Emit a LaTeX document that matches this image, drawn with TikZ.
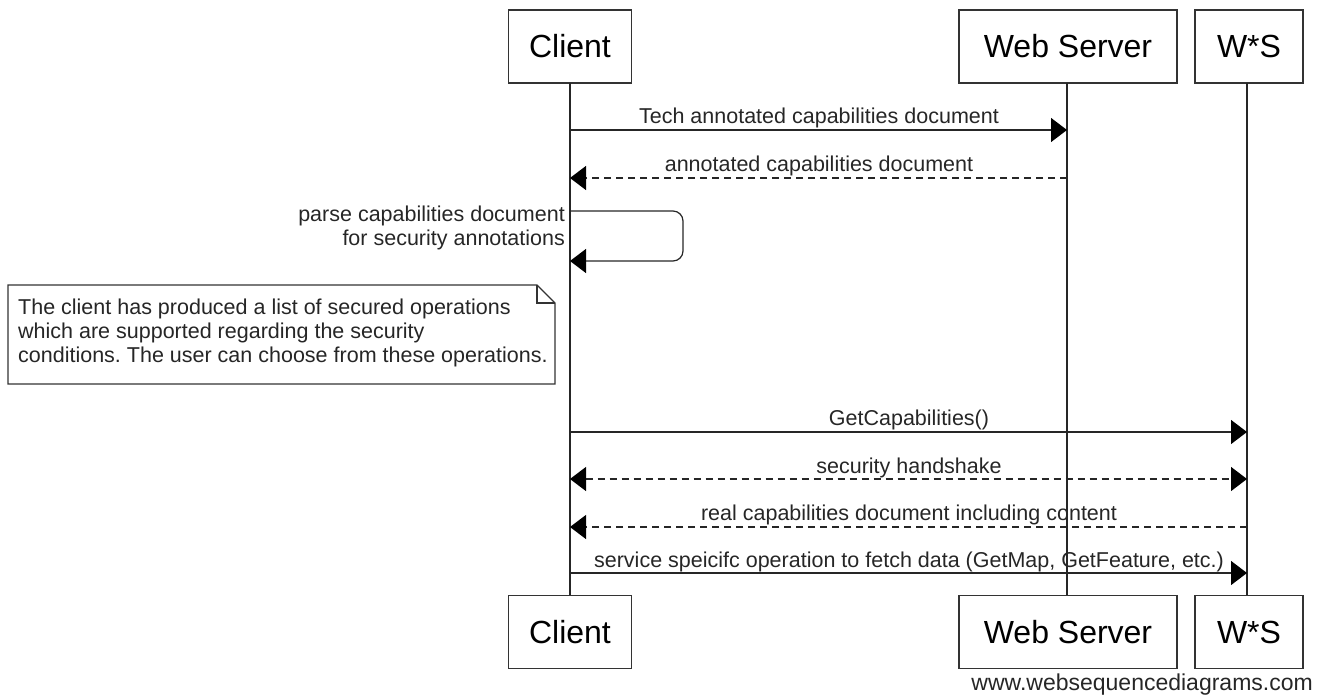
\documentclass[tikz,border=0pt]{standalone}
\usepackage{fontspec}
\setmainfont{Liberation Sans}
\frenchspacing
\usetikzlibrary{arrows.meta}
\tikzset{
  tip/.tip={Triangle[length=16pt,width=24pt,color=black]},
  actor/.style={draw=black!80, line width=1.4pt, fill=white, minimum height=73pt, inner sep=0pt, font=\fontsize{32}{36}\selectfont},
  life/.style={draw=black!85, line width=1.2pt},
  msg/.style={draw=black!85, line width=1.2pt, -tip},
  rmsg/.style={msg, dash pattern=on 7pt off 5pt},
  lbl/.style={font=\fontsize{21.5}{24}\selectfont, inner sep=0pt, anchor=base, text=black!85},
  notebox/.style={draw=black!80, line width=1.2pt, fill=white},
}
\begin{document}
\begin{tikzpicture}[x=1pt,y=-1pt]
\useasboundingbox (0,0) rectangle (1323,695);
% actors top
\node[actor, minimum width=123pt] (ctop) at (570,46.5) {Client};
\node[actor, minimum width=218pt] (wtop) at (1068,46.5) {Web Server};
\node[actor, minimum width=108pt] (stop) at (1249,46.5) {W*S};
% actors bottom
\node[actor, minimum width=123pt] (cbot) at (570,632) {Client};
\node[actor, minimum width=218pt] (wbot) at (1068,632) {Web Server};
\node[actor, minimum width=108pt] (sbot) at (1249,632) {W*S};
% lifelines
\coordinate (cl0) at (570,83);   \coordinate (cl1) at (570,595);
\coordinate (wl0) at (1067,83);  \coordinate (wl1) at (1067,595);
\coordinate (sl0) at (1247,83);  \coordinate (sl1) at (1247,595);
\draw[life] (cl0) -- (cl1);
\draw[life] (wl0) -- (wl1);
\draw[life] (sl0) -- (sl1);
% message 1
\coordinate (c1) at (570,130); \coordinate (w1) at (1067,130);
\draw[msg] (c1) -- (w1);
\node[lbl] (m1) at (819,124) {Tech annotated capabilities document};
% message 2
\coordinate (c2) at (570,178); \coordinate (w2) at (1067,178);
\draw[rmsg] (w2) -- (c2);
\node[lbl] (m2) at (819,172) {annotated capabilities document};
% self message
\coordinate (s1) at (570,211); \coordinate (sr) at (683,211); \coordinate (s2) at (570,261);
\draw[msg, rounded corners=10pt] (s1) -- (sr) |- (s2);
\node[lbl, anchor=base east] (m3a) at (565,222) {parse capabilities document};
\node[lbl, anchor=base east] (m3b) at (565,246) {for security annotations};
% note
\draw[notebox] (8,285) -- (537,285) -- (555,303) -- (555,384) -- (8,384) -- cycle;
\draw[notebox, fill=none] (537,285) -- (537,303) -- (555,303);
\node[font=\fontsize{21.5}{24}\selectfont, align=left, anchor=north west, inner sep=0pt, text=black!85] (note) at (18,299)
 {The client has produced a list of secured operations\\which are supported regarding the security\\conditions. The user can choose from these operations.};
% message GetCapabilities
\coordinate (c4) at (570,432); \coordinate (s4) at (1247,432);
\draw[msg] (c4) -- (s4);
\node[lbl] (m4) at (909,425) {GetCapabilities()};
% handshake
\coordinate (c5) at (570,479); \coordinate (s5) at (1247,479);
\draw[rmsg, tip-tip] (c5) -- (s5);
\node[lbl] (m5) at (909,473) {security handshake};
% real capabilities
\coordinate (c6) at (570,527); \coordinate (s6) at (1247,527);
\draw[rmsg] (s6) -- (c6);
\node[lbl] (m6) at (909,520) {real capabilities document including content};
% service specific
\coordinate (c7) at (570,573); \coordinate (s7) at (1247,573);
\draw[msg] (c7) -- (s7);
\node[lbl] (m7) at (909,567) {service speicifc operation to fetch data (GetMap, GetFeature, etc.)};
% watermark
\node[font=\fontsize{23}{26}\selectfont, anchor=base east, inner sep=0pt, text=black!85] (wm) at (1313,690) {www.websequencediagrams.com};
\end{tikzpicture}
\end{document}
